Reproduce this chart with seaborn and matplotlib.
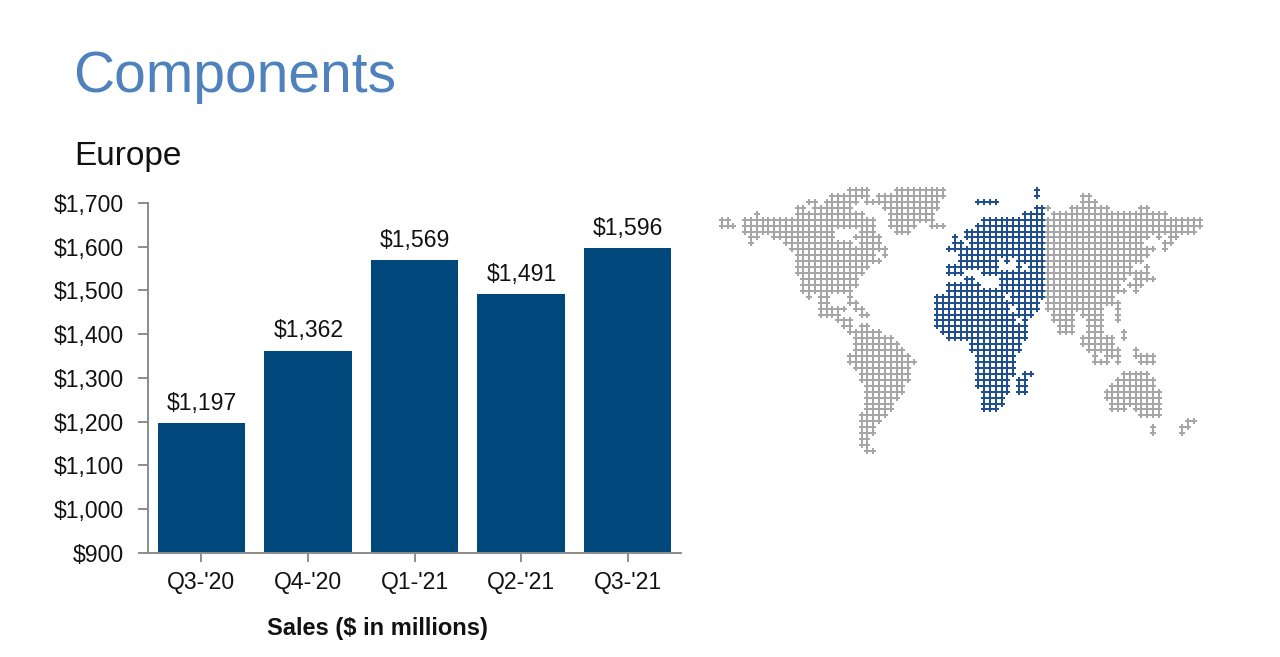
import pandas as pd
import matplotlib.pyplot as plt
import seaborn as sn

quarters = ["Q3-'20", "Q4-'20", "Q1-'21", "Q2-'21", "Q3-'21"]
sales = [1197, 1362, 1569, 1491, 1596]
sales_labels = ['$1,197', '$1,362', '$1,569', '$1,491', '$1,596']
y_ticks = [900, 1000, 1100, 1200, 1300, 1400, 1500, 1600, 1700]

# world map, dots per grid row as (first column, last column) runs
gray_rows = [
    [(22, 25), (30, 38)],
    [(19, 25), (27, 38), (62, 63)],
    [(15, 16), (18, 23), (25, 37), (62, 64)],
    [(13, 14), (16, 18), (19, 22), (28, 37), (56, 56), (60, 66), (72, 73)],
    [(6, 6), (13, 24), (29, 36), (57, 76)],
    [(0, 1), (4, 26), (29, 36), (56, 82)],
    [(0, 2), (4, 26), (29, 33), (36, 38), (56, 82)],
    [(4, 19), (24, 26), (30, 32), (56, 81)],
    [(5, 6), (9, 19), (23, 27), (56, 73), (75, 75), (77, 78)],
    [(5, 5), (11, 22), (24, 27), (56, 72), (76, 77)],
    [(12, 28), (56, 74), (76, 76)],
    [(13, 26), (28, 28), (56, 73)],
    [(13, 27), (56, 72)],
    [(13, 25), (56, 70), (73, 73)],
    [(13, 24), (56, 69), (70, 71), (72, 73)],
    [(14, 23), (56, 69), (71, 74)],
    [(14, 23), (56, 68), (70, 72)],
    [(14, 22), (56, 69), (71, 71)],
    [(15, 15), (17, 18), (22, 22), (56, 67)],
    [(17, 18), (22, 23), (56, 68)],
    [(17, 19), (20, 21), (23, 24), (56, 61), (62, 65), (68, 68)],
    [(17, 20), (24, 25), (57, 60), (62, 65), (68, 68)],
    [(20, 22), (57, 60), (63, 65), (68, 68)],
    [(21, 22), (24, 25), (58, 60), (63, 65)],
    [(22, 27), (58, 60), (63, 65), (69, 69)],
    [(23, 29), (62, 65), (66, 67), (69, 69)],
    [(23, 30), (62, 67)],
    [(23, 31), (63, 68), (71, 71)],
    [(22, 32), (64, 64), (66, 68), (71, 74)],
    [(22, 33), (64, 66), (68, 68), (72, 74)],
    [(23, 32)],
    [(24, 32), (69, 73)],
    [(24, 32), (68, 74)],
    [(25, 31), (67, 74)],
    [(25, 31), (66, 75)],
    [(25, 30), (66, 75)],
    [(25, 29), (67, 75)],
    [(25, 29), (67, 69), (71, 75)],
    [(24, 28), (72, 75)],
    [(24, 27), (80, 81)],
    [(24, 26), (74, 74), (79, 80)],
    [(24, 26), (74, 74), (79, 79)],
    [(24, 25)],
    [(24, 25)],
    [(25, 26)],
]
blue_rows = [
    [(54, 54)],
    [(54, 54)],
    [(44, 47)],
    [(54, 55)],
    [(52, 55)],
    [(45, 55)],
    [(44, 55)],
    [(42, 55)],
    [(40, 40), (42, 55)],
    [(40, 41), (43, 55)],
    [(39, 55)],
    [(41, 55)],
    [(41, 47), (49, 49), (51, 55)],
    [(39, 44), (45, 47), (51, 51), (53, 55)],
    [(39, 41), (45, 46), (47, 55)],
    [(42, 43), (48, 55)],
    [(39, 44), (48, 55)],
    [(39, 55)],
    [(37, 48), (50, 55)],
    [(37, 54)],
    [(37, 49), (51, 54)],
    [(37, 53)],
    [(37, 50), (52, 52)],
    [(37, 52)],
    [(38, 52)],
    [(39, 52)],
    [(43, 51)],
    [(43, 51)],
    [(44, 50)],
    [(44, 50)],
    [(44, 50)],
    [(44, 50), (52, 53)],
    [(44, 49), (51, 52)],
    [(44, 49), (51, 52)],
    [(45, 49), (51, 52)],
    [(45, 48)],
    [(45, 48)],
    [(45, 47)],
]


def map_frame(rows):
    cells = []
    for r, runs in enumerate(rows):
        for first, last in runs:
            for c in range(first, last + 1):
                cells.append((c, r))
    return pd.DataFrame(cells, columns=['col', 'row'])


W, H = 1280, 657
sn.set_style('white')
plt.rcParams['font.family'] = ['Liberation Sans', 'DejaVu Sans']

fig = plt.figure(figsize=(W / 100, H / 100), dpi=100)
ax = fig.add_axes([148 / W, 1 - 552.8 / H, 533 / W, 350 / H])

data = pd.DataFrame({'quarter': quarters, 'sales': sales})
sn.barplot(data=data, x='quarter', y='sales', color='#00487c', saturation=1,
           width=0.82, linewidth=0, ax=ax)
ax.set_ylim(900, 1700)
ax.set_xlim(-0.5, 4.5)
ax.set_yticks(y_ticks)
ax.set_yticklabels(['${:,}'.format(v) for v in y_ticks])
ax.set_xlabel('')
ax.set_ylabel('')
ax.tick_params(axis='y', left=True, length=7, width=1.4, color='#8c8c8c',
               labelsize=16.6, labelcolor='#111111', pad=10.5)
ax.tick_params(axis='x', bottom=True, length=6.5, width=1.4, color='#8c8c8c',
               labelsize=16.6, labelcolor='#111111', pad=6.5)
for s in ['top', 'right']:
    ax.spines[s].set_visible(False)
for s in ['left', 'bottom']:
    ax.spines[s].set_color('#8c8c8c')
    ax.spines[s].set_linewidth(1.4)
for i, label in enumerate(sales_labels):
    ax.annotate(label, (i, sales[i]), xytext=(0.5, 6), textcoords='offset points',
                ha='center', va='bottom', fontsize=16.6, color='#111111')

fig.text(73 / W, 1 - 92 / H, 'Components', fontsize=41, color='#4f81bd', va='baseline')
fig.text(74 / W, 1 - 165 / H, 'Europe', fontsize=24, color='#111111', va='baseline')
fig.text(377 / W, 1 - 635 / H, 'Sales ($ in millions)', fontsize=17, fontweight='bold',
         color='#111111', ha='center', va='baseline')

# map panel: one grid step is 5.83 x 5.93 px, one spare row and column round it
map_ax = fig.add_axes([715.9 / W, 1 - 456.9 / H, 507.2 / W, 272.8 / H])
sn.scatterplot(data=map_frame(gray_rows), x='col', y='row', marker='P', s=13, color='#a6a6a6',
               linewidth=0, ax=map_ax, legend=False)
sn.scatterplot(data=map_frame(blue_rows), x='col', y='row', marker='P', s=13, color='#1f4f8f',
               linewidth=0, ax=map_ax, legend=False)
map_ax.set_xlim(-1, 86)
map_ax.set_ylim(45, -1)
map_ax.axis('off')

fig.savefig('out.png', dpi=100)
